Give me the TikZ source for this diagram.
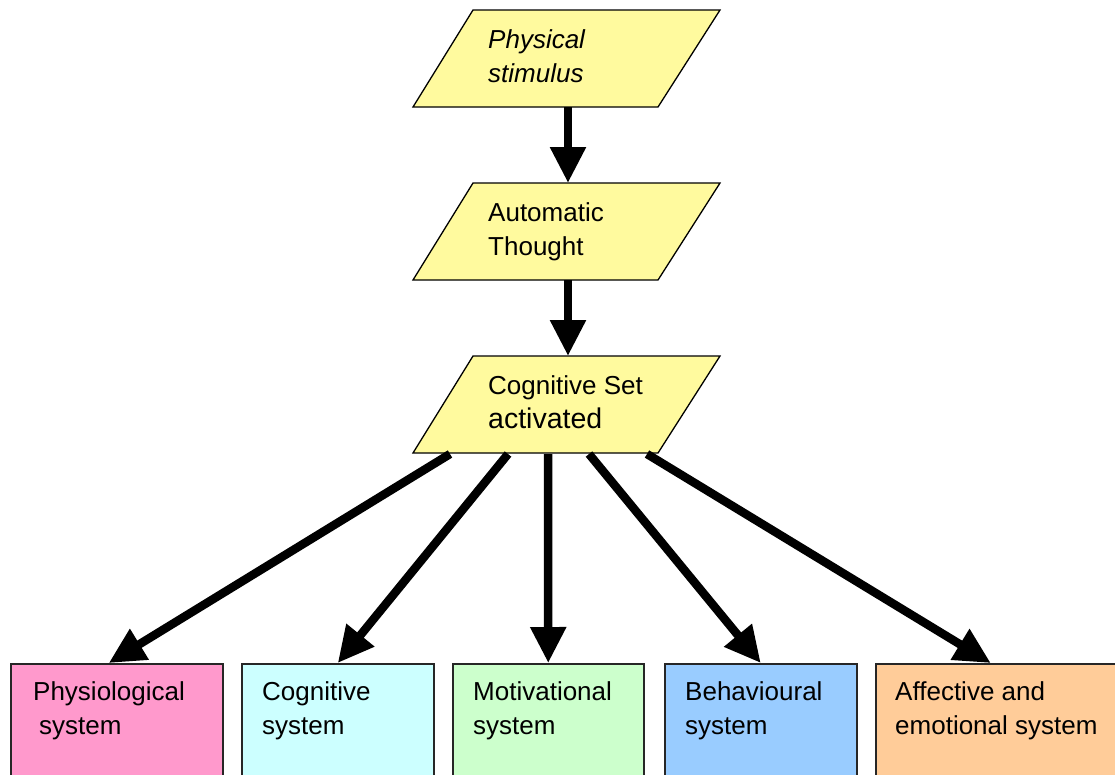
\documentclass[tikz,border=0pt]{standalone}
\usepackage{fontspec}
\setmainfont{Liberation Sans}
\usetikzlibrary{arrows.meta,calc}

\definecolor{slabfill}{HTML}{FFFA9E}
\definecolor{physfill}{HTML}{FF99CC}
\definecolor{cogfill}{HTML}{CCFFFF}
\definecolor{motfill}{HTML}{CCFFCC}
\definecolor{behfill}{HTML}{99CCFF}
\definecolor{afffill}{HTML}{FFCC99}

% a slanted input box: name, top edge y
\newcommand\drawslab[2]{%
  \coordinate (#1-tl) at (473,#2);
  \coordinate (#1-tr) at (720,#2);
  \coordinate (#1-br) at (658,#2+97);
  \coordinate (#1-bl) at (413,#2+97);
  \coordinate (#1-top) at (568,#2);
  \coordinate (#1-bot) at (568,#2+97);
  \draw[slab] (#1-tl) -- (#1-tr) -- (#1-br) -- (#1-bl) -- cycle;
}

\begin{document}
\begin{tikzpicture}[x=1pt,y=-1pt,
  slab/.style={fill=slabfill,draw=black,line width=1.3pt},
  sysbox/.style={draw=black!85,line width=1.5pt,minimum height=200pt,
    anchor=north west,inner sep=0pt},
  label/.style={anchor=base west,inner sep=0pt,align=left,
    font=\fontsize{26}{33.5}\selectfont},
  flow/.style={line width=8.5pt,-{Triangle[width=34pt,length=36pt]}}]
\useasboundingbox (0,0) rectangle (1115,774);

% chain of slanted boxes
\drawslab{ps}{10}
\drawslab{at}{183}
\drawslab{cs}{356}

% multi-line labels are anchored at the baseline of their last line
\node[label,font=\itshape\fontsize{26}{34}\selectfont] (ps-txt) at (488,82) {Physical\\stimulus};
\node[label,font=\fontsize{26}{34}\selectfont] (at-txt) at (488,255) {Automatic\\Thought};
\node[label,font=\fontsize{26}{34}\selectfont] (cs-txt) at (488,428) {Cognitive Set\\{\fontsize{28.5}{34}\selectfont activated}};

% the five systems
\node[sysbox,fill=physfill,minimum width=212pt] (phys) at (10,663) {};
\node[sysbox,fill=cogfill,minimum width=192pt] (cog) at (241,663) {};
\node[sysbox,fill=motfill,minimum width=191pt] (mot) at (452,663) {};
\node[sysbox,fill=behfill,minimum width=192pt] (beh) at (664,663) {};
\node[sysbox,fill=afffill,minimum width=260pt] (aff) at (875,663) {};

\node[label] (phys-txt) at ($(phys.north west)+(23,71)$) {Physiological\\\hspace{6pt}system};
\node[label] (cog-txt) at ($(cog.north west)+(21,71)$) {Cognitive\\system};
\node[label] (mot-txt) at ($(mot.north west)+(21,71)$) {Motivational\\system};
\node[label] (beh-txt) at ($(beh.north west)+(21,71)$) {Behavioural\\system};
\node[label] (aff-txt) at ($(aff.north west)+(20,71)$) {Affective and\\emotional system};

% connectors
\draw[flow] (ps-bot) -- (at-top);
\draw[flow] (at-bot) -- (cs-top);

\coordinate (o1) at (450,454);
\coordinate (o2) at (508,454);
\coordinate (o3) at (548,454);
\coordinate (o4) at (589,454);
\coordinate (o5) at (647,454);
\draw[flow] (o1) -- ([xshift=-8pt]phys.north);
\draw[flow] (o2) -- (cog.north);
\draw[flow] (o3) -- (mot.north);
\draw[flow] (o4) -- (beh.north);
\draw[flow] (o5) -- ([xshift=-15pt]aff.north);
\end{tikzpicture}
\end{document}
